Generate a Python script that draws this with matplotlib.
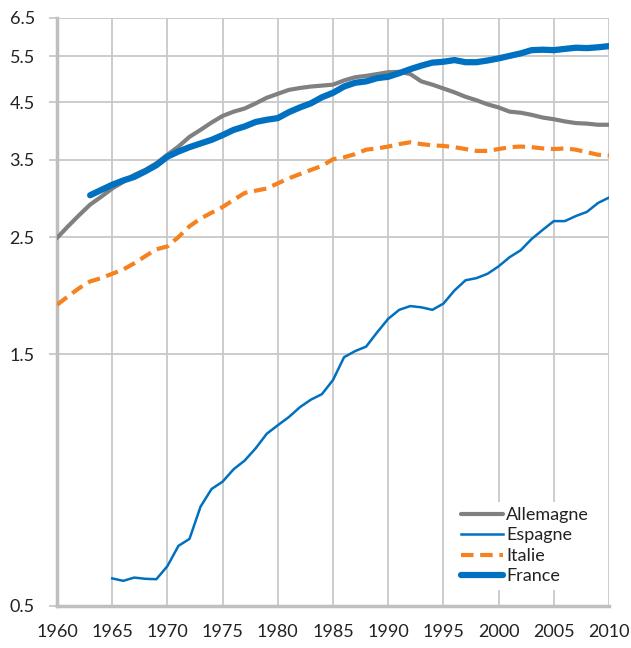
import matplotlib
matplotlib.use("Agg")
import matplotlib.pyplot as plt
from matplotlib.ticker import FixedLocator, NullLocator, FixedFormatter

years_de = list(range(1960, 2011))
allemagne = [2.49, 2.62, 2.75, 2.88, 2.98, 3.09, 3.18, 3.28, 3.35, 3.45,
             3.58, 3.71, 3.87, 3.99, 4.12, 4.24, 4.32, 4.38, 4.48, 4.59,
             4.67, 4.75, 4.79, 4.82, 4.84, 4.86, 4.95, 5.02, 5.05, 5.09,
             5.13, 5.14, 5.09, 4.93, 4.86, 4.78, 4.70, 4.61, 4.54, 4.46,
             4.40, 4.32, 4.30, 4.26, 4.21, 4.18, 4.14, 4.11, 4.10, 4.08, 4.08]

years_es = list(range(1965, 2011))
espagne = [0.564, 0.558, 0.566, 0.563, 0.562, 0.595, 0.650, 0.670, 0.771, 0.833,
           0.860, 0.908, 0.943, 0.995, 1.06, 1.10, 1.14, 1.19, 1.23, 1.26,
           1.34, 1.48, 1.52, 1.55, 1.65, 1.75, 1.82, 1.85, 1.84, 1.82,
           1.87, 1.98, 2.07, 2.09, 2.13, 2.20, 2.29, 2.36, 2.48, 2.58,
           2.68, 2.68, 2.74, 2.79, 2.90, 2.97]

years_it = list(range(1960, 2011))
italie = [1.86, 1.93, 2.00, 2.06, 2.09, 2.13, 2.17, 2.23, 2.30, 2.37,
          2.40, 2.50, 2.62, 2.71, 2.78, 2.85, 2.94, 3.03, 3.06, 3.09,
          3.16, 3.23, 3.29, 3.35, 3.41, 3.51, 3.54, 3.59, 3.66, 3.68,
          3.71, 3.75, 3.78, 3.75, 3.73, 3.72, 3.70, 3.67, 3.64, 3.64,
          3.67, 3.70, 3.71, 3.70, 3.68, 3.67, 3.68, 3.66, 3.62, 3.58, 3.57]

years_fr = list(range(1963, 2011))
france = [3.00, 3.07, 3.14, 3.20, 3.25, 3.33, 3.42, 3.55, 3.63, 3.70,
          3.76, 3.82, 3.90, 3.99, 4.05, 4.13, 4.17, 4.20, 4.31, 4.40,
          4.48, 4.60, 4.69, 4.82, 4.90, 4.93, 5.00, 5.03, 5.11, 5.20,
          5.28, 5.35, 5.37, 5.41, 5.36, 5.36, 5.40, 5.45, 5.51, 5.57,
          5.65, 5.66, 5.65, 5.68, 5.71, 5.70, 5.72, 5.75]

y_ticks = [0.5, 1.5, 2.5, 3.5, 4.5, 5.5, 6.5]
y_labels = ["0.5", "1.5", "2.5", "3.5", "4.5", "5.5", "6.5"]
x_ticks = list(range(1960, 2011, 5))

plt.rcParams['font.family'] = ['Lato', 'DejaVu Sans']

fig = plt.figure(figsize=(6.31, 6.48), dpi=100)
ax = fig.add_axes([57/631, 1-606/648, (609-57)/631, (606-18)/648])

grey = '#808080'
blue = '#0070C0'
orange = '#F5821F'

ax.plot(years_de, allemagne, color=grey, lw=3.0, label='Allemagne', solid_capstyle='round', zorder=3)
ax.plot(years_es, espagne, color=blue, lw=1.8, label='Espagne', zorder=3)
ax.plot(years_it, italie, color=orange, lw=3.0, dashes=(3.0, 1.6), label='Italie', zorder=3)
ax.plot(years_fr, france, color=blue, lw=4.5, label='France', solid_capstyle='round', zorder=4)

ax.set_yscale('log')
ax.set_ylim(0.5, 6.5)
ax.set_xlim(1960, 2010)
ax.yaxis.set_major_locator(FixedLocator(y_ticks))
ax.yaxis.set_major_formatter(FixedFormatter(y_labels))
ax.yaxis.set_minor_locator(NullLocator())
ax.set_xticks(x_ticks)
ax.set_xticklabels([str(x) for x in x_ticks])

ax.grid(True, color='#C8C8C8', lw=1.3, zorder=0)
ax.set_axisbelow(True)
for s in ['top', 'right']:
    ax.spines[s].set_visible(False)
for s in ['left', 'bottom']:
    ax.spines[s].set_color('#BFBFBF')
    ax.spines[s].set_linewidth(2.5)

ax.tick_params(axis='y', length=6, width=1.3, color='#C8C8C8', pad=10, labelsize=13, labelcolor='#222222')
ax.tick_params(axis='x', length=0, pad=13, labelsize=13, labelcolor='#222222')

leg = ax.legend(loc='lower right', bbox_to_anchor=(0.99, 0.012), fontsize=13,
                frameon=True, framealpha=1, facecolor='white', edgecolor='none',
                handlelength=2.3, handletextpad=0.2, labelspacing=0.25,
                borderpad=0.3, fancybox=False)
for t in leg.get_texts():
    t.set_color('#222222')

fig.savefig('out.png', dpi=100)
